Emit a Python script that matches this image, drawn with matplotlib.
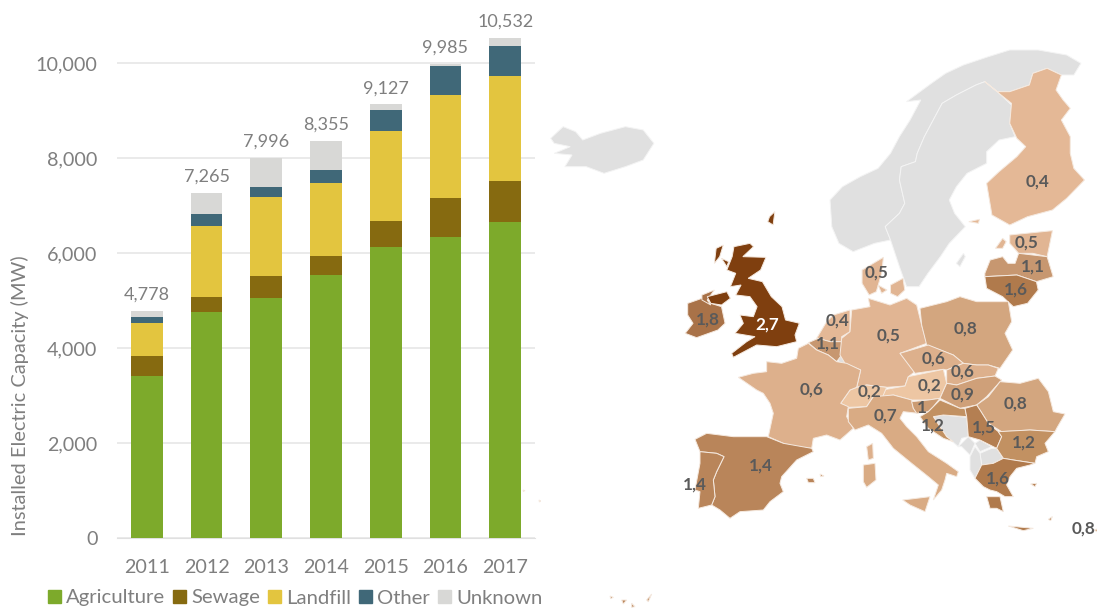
import matplotlib
matplotlib.use("Agg")
import matplotlib.pyplot as plt
from matplotlib.patches import Polygon, Patch

years = ["2011", "2012", "2013", "2014", "2015", "2016", "2017"]
agriculture = [3404, 4757, 5060, 5536, 6132, 6336, 6645]
sewage = [427, 323, 455, 400, 541, 814, 876]
landfill = [701, 1488, 1657, 1530, 1888, 2182, 2198]
other = [126, 246, 210, 274, 442, 610, 631]
unknown = [120, 451, 614, 615, 124, 43, 182]
totals = [4778, 7265, 7996, 8355, 9127, 9985, 10532]
series_names = ["Agriculture", "Sewage", "Landfill", "Other", "Unknown"]
series_colors = ["#7DAA2B", "#866A10", "#E3C53F", "#406878", "#D8D8D6"]
yticks = [0, 2000, 4000, 6000, 8000, 10000]

country_values = {
    "FI": "0,4", "EE": "0,5", "LV": "1,1", "LT": "1,6", "DK": "0,5", "IE": "1,8",
    "UK": "2,7", "NL": "0,4", "BE": "1,1", "DE": "0,5", "PL": "0,8", "CZ": "0,6",
    "SK": "0,6", "AT": "0,2", "CH": "0,2", "FR": "0,6", "HU": "0,9", "RO": "0,8",
    "IT": "0,7", "SI": "1", "HR": "1,2", "RS": "1,5", "BG": "1,2", "ES": "1,4",
    "PT": "1,4", "GR": "1,6", "CY": "0,8",
}
shade = {"0,2": "#EDC6A3", "0,4": "#E4B896", "0,5": "#E1B593", "0,6": "#DDB08C",
         "0,7": "#D9AB84", "0,8": "#D3A67F", "0,9": "#CFA079", "1": "#CB9B72",
         "1,1": "#C79770", "1,2": "#C29162", "1,4": "#B9855A", "1,5": "#B47F52",
         "1,6": "#B07A4C", "1,8": "#A97248", "2,7": "#7F3F0F"}
NODATA = "#E0E0E0"
TEXT = "#7F7F7F"

label_px = {
    "FI": (1037, 182), "EE": (1027, 243), "LV": (1033, 267), "LT": (1016, 290),
    "DK": (877, 273), "IE": (708, 320), "UK": (767, 325), "NL": (837, 321),
    "BE": (828, 344), "DE": (889, 336), "PL": (966, 329), "CZ": (934, 359),
    "SK": (963, 372), "AT": (929, 386), "CH": (869, 392), "FR": (812, 390),
    "HU": (963, 395), "RO": (1015, 404), "IT": (886, 416), "SI": (922, 408),
    "HR": (933, 426), "RS": (984, 428), "BG": (1024, 443), "ES": (761, 466),
    "PT": (695, 485), "GR": (998, 479), "CY": (1083, 529),
}


def n(pts):   # traced on the northern crop
    return [(540 + x / 2.81, 40 + y / 3) for x, y in pts]


def s(pts):   # traced on the southern crop
    return [(600 + x / 3, 300 + y / 3) for x, y in pts]


outlines = {
    "FI": [n([(1250,125),(1285,155),(1320,155),(1375,135),(1385,100),(1425,85),(1465,105),(1450,150),(1470,180),(1490,205),(1465,240),(1490,290),(1490,340),(1500,385),(1530,420),(1480,475),(1440,510),(1370,530),(1320,555),(1270,525),(1255,430),(1290,395),(1340,350),(1365,320),(1340,295),(1320,250),(1325,190),(1290,160)]),
           n([(1205,545),(1235,538),(1232,550)])],
    "EE": [n([(1320,585),(1440,572),(1425,650),(1385,640),(1345,640),(1320,610)]),
           n([(1280,625),(1300,595),(1310,605),(1300,625)])],
    "LV": [n([(1250,700),(1265,660),(1300,650),(1315,670),(1335,670),(1345,640),(1385,645),(1425,650),(1442,710),(1395,725),(1340,705),(1250,710)])],
    "LT": [n([(1250,710),(1340,705),(1395,725),(1400,750),(1370,790),(1330,800),(1300,770),(1255,745)])],
    "DK": [n([(905,690),(965,652),(960,700),(945,755),(925,765),(905,730)]),
           n([(950,735),(975,750),(960,760)]),
           n([(985,735),(1020,715),(1025,750),(1005,770),(985,760)])],
    "IE": [n([(415,790),(455,775),(480,790),(510,800),(520,850),(500,870),(440,893),(408,880),(430,850),(415,825)]),
           n([(455,765),(490,750),(470,780),(480,795),(455,780)])],
    "UK": [n([(545,620),(590,610),(600,620),(570,650),(635,652),(620,690),(585,715),(625,725),(650,770),(680,800),(690,840),(730,850)])
           + s([(598,70),(585,105),(590,125),(530,140),(470,135),(400,172),(395,160),(440,125),(465,110),(405,100),(430,70),(420,45),(460,50)])
           + n([(610,800),(590,770),(550,765),(565,735),(535,740),(550,700),(525,690),(540,650)]),
           n([(470,770),(525,755),(535,775),(510,795),(480,790)]),
           n([(495,625),(515,615),(505,650),(490,670)]),
           n([(510,655),(530,665),(525,680)]),
           n([(645,530),(660,515),(655,555),(640,545)])],
    "NL": [s([(650,115),(680,65),(700,45),(750,30),(750,95),(725,110),(725,125),(690,125)])],
    "BE": [s([(625,128),(655,115),(690,125),(725,125),(725,165),(710,185),(685,165),(650,150)])],
    "DE": [s([(755,30),(810,20),(805,-5),(870,15),(920,-5),(950,15),(965,75),(980,130),(900,160),(945,215),(925,230),(915,258),(860,262),(800,255),(770,262),(782,210),(735,190),(720,165),(725,115),(750,95)])],
    "PL": [s([(960,25),(1040,5),(1080,-10),(1130,5),(1225,5),(1235,65),(1215,100),(1238,150),(1200,205),(1165,195),(1130,195),(1090,190),(1060,165),(980,135),(965,75)])],
    "CZ": [s([(900,160),(985,135),(1060,165),(1090,190),(1040,210),(1030,208),(945,220)])],
    "SK": [s([(1040,210),(1090,190),(1130,195),(1165,195),(1195,205),(1185,228),(1130,235),(1070,255),(1040,250)])],
    "AT": [s([(848,270),(915,258),(925,230),(1030,208),(1040,250),(1020,295),(985,300),(935,300),(880,285),(850,290)])],
    "CH": [s([(722,310),(750,270),(770,262),(800,255),(860,262),(848,290),(820,290),(800,320),(745,322)])],
    "FR": [s([(595,145),(625,130),(650,150),(685,165),(710,185),(740,190),(782,210),(770,262),(750,270),(722,310),(745,320),(740,350),(760,385),(720,420),(680,405),(640,415),(635,445),(590,440),(550,430),(505,410),(520,340),(510,310),(490,280),(470,270),(415,232),(460,220),(500,215),(500,185),(545,190),(590,175)]),
           s([(800,440),(818,430),(820,475),(805,480)])],
    "HU": [s([(1040,250),(1070,255),(1130,235),(1185,228),(1205,240),(1160,290),(1130,315),(1080,325),(1030,300),(1020,295)])],
    "RO": [s([(1130,315),(1165,290),(1200,245),(1260,250),(1315,235),(1345,275),(1360,335),(1395,342),(1370,385),(1365,395),(1290,390),(1205,395),(1165,370)])],
    "IT": [s([(745,325),(800,320),(820,290),(880,285),(935,300),(940,325),(955,340),(910,335),(900,355),(920,380),(950,410),(985,455),(1040,490),(1075,515),(1070,530),(1040,520),(1035,540),(1025,570),(1000,600),(1015,555),(985,530),(935,490),(880,445),(845,400),(805,375),(765,390),(745,365)]),
           s([(908,600),(990,590),(975,635),(930,615)]),
           s([(790,495),(825,490),(828,540),(800,562),(790,545)])],
    "SI": [s([(935,305),(985,300),(1020,295),(1000,320),(985,335),(950,340),(940,325)])],
    "HR": [s([(985,335),(1000,320),(1020,300),(1080,325),(1095,325),(1100,350),(1030,345),(1000,350),(1040,410),(1060,425),(1030,415),(985,385),(960,350)])],
    "RS": [s([(1095,325),(1130,315),(1140,330),(1165,370),(1195,395),(1205,410),(1190,445),(1140,420),(1105,410),(1100,350)])],
    "BG": [s([(1195,395),(1290,390),(1365,395),(1335,430),(1345,455),(1310,470),(1305,490),(1240,480),(1210,475),(1190,445),(1205,410)])],
    "ES": [s([(285,418),(320,400),(400,410),(500,410),(550,430),(635,445),(640,455),(590,480),(545,530),(540,550),(550,575),(510,605),(490,630),(420,635),(390,655),(360,630),(335,615),(345,590),(340,540),(350,515),(372,470),(350,460),(300,455)]),
           s([(620,535),(640,535),(645,548),(625,548)]),
           s([(660,522),(672,528),(662,530)]),
           s([(155,882),(145,905),(140,900)]), s([(95,910),(105,920),(95,922)]),
           s([(65,900),(80,900),(70,912)]), s([(30,888),(40,892),(32,896)])],
    "PT": [s([(300,455),(350,460),(372,470),(350,515),(340,540),(345,590),(335,615),(295,625),(300,575),(285,570),(300,490)]),
           s([(-231,570),(-225,572),(-230,574)]), s([(-183,600),(-178,603),(-182,606)])],
    "GR": [s([(1125,535),(1145,495),(1180,490),(1210,475),(1240,480),(1305,490),(1290,495),(1250,505),(1230,530),(1220,555),(1240,590),(1215,590),(1190,575),(1170,570),(1150,560)]),
           s([(1160,590),(1200,590),(1210,635),(1190,625),(1170,625)]),
           s([(1225,678),(1300,685),(1270,692)]),
           s([(1345,658),(1357,650),(1352,662)]),
           s([(1292,552),(1310,550),(1305,560)])],
    "CY": [s([(1480,690),(1497,686),(1497,697)])],
}
nodata_outlines = [
    n([(30,295),(65,260),(100,275),(120,300),(170,280),(240,260),(290,270),(320,310),(290,360),(240,380),(180,400),(130,380),(70,380),(90,345),(40,340),(85,320),(40,310)]),
    n([(880,635),(840,610),(820,560),(815,480),(850,440),(900,410),(950,385),(985,340),(1010,290),(1040,240),(1070,180),(1030,185),(1100,130),(1140,100),(1190,75),(1260,50),(1320,30),(1400,30),(1480,45),(1520,70),(1500,105),(1465,105),(1425,85),(1385,100),(1375,135),(1320,155),(1285,155),(1250,125),(1225,135),(1170,165),(1130,190),(1110,230),(1080,290),(1060,340),(1055,365),(1015,380),(1010,420),(1025,490),(1010,520),(970,560),(985,600),(940,610)]),
    n([(1225,135),(1250,125),(1285,155),(1325,195),(1320,250),(1335,290),(1290,300),(1255,335),(1255,370),(1200,400),(1170,440),(1150,480),(1165,520),(1195,560),(1150,610),(1125,650),(1090,700),(1065,740),(1030,740),(1010,680),(985,600),(970,560),(1010,520),(1025,490),(1010,420),(1015,380),(1055,365),(1060,340),(1080,290),(1110,230),(1130,190),(1170,165)]),
    n([(1170,670),(1190,640),(1195,650),(1180,680)]),
    s([(712,175),(728,165),(735,188),(720,192)]),
    s([(1000,350),(1030,345),(1100,352),(1105,410),(1085,415),(1075,440),(1040,410)]),
    s([(1075,440),(1105,410),(1125,430),(1110,465),(1085,440)]),
    s([(1125,430),(1140,420),(1175,440),(1140,455)]),
    s([(1140,460),(1175,445),(1190,445),(1210,475),(1180,490),(1145,495)]),
    s([(1110,470),(1125,440),(1140,460),(1145,495),(1125,535),(1110,510)]),
]

W, H = 1097, 608
FONT = "Lato"
plt.rcParams["font.family"] = FONT
fig = plt.figure(figsize=(W / 100, H / 100), dpi=100)

# ---- stacked bars -------------------------------------------------------
left, right, bottom, top = 117, 535, 538, 15.5
ax = fig.add_axes([left / W, 1 - bottom / H, (right - left) / W, (bottom - top) / H])
xs = list(range(len(years)))
base = [0] * len(years)
for name, vals, col in zip(series_names, [agriculture, sewage, landfill, other, unknown], series_colors):
    ax.bar(xs, vals, bottom=base, width=0.53, color=col, edgecolor="none", label=name, zorder=3)
    base = [b + v for b, v in zip(base, vals)]
for x, t in zip(xs, totals):
    ax.annotate(f"{t:,}", (x, t), xytext=(0, 6), textcoords="offset points",
                ha="center", va="bottom", fontsize=13, color=TEXT)
ax.set_xlim(-0.5, 6.5)
ax.set_ylim(0, 11000)
ax.set_yticks(yticks)
ax.set_yticklabels([f"{v:,}" for v in yticks])
ax.set_xticks(xs)
ax.set_xticklabels(years)
ax.tick_params(axis="both", length=0, labelsize=14.2, labelcolor=TEXT)
ax.tick_params(axis="y", pad=14)
ax.tick_params(axis="x", pad=15)
ax.grid(axis="y", color="#E6E6E6", linewidth=1.2, zorder=0)
ax.set_axisbelow(True)
for side in ["top", "right", "left"]:
    ax.spines[side].set_visible(False)
ax.spines["bottom"].set_color("#E0E0E0")
fig.text(20 / W, 1 - 396 / H, "Installed Electric Capacity (MW)", rotation=90,
         ha="center", va="center", fontsize=14.4, color=TEXT)
handles = [Patch(color=c, label=l) for c, l in zip(series_colors, series_names)]
fig.legend(handles=handles, loc="center left", bbox_to_anchor=(48 / W, 1 - 598 / H), ncol=5,
           frameon=False, fontsize=14.6, labelcolor=TEXT, handlelength=0.62, handleheight=0.62,
           handletextpad=0.25, columnspacing=0.42, borderpad=0, borderaxespad=0)

# ---- map ----------------------------------------------------------------
mp = fig.add_axes([0, 0, 1, 1], zorder=-1)
mp.set_xlim(0, W)
mp.set_ylim(H, 0)
mp.axis("off")
ax.patch.set_alpha(0)
for poly in nodata_outlines:
    mp.add_patch(Polygon(poly, closed=True, facecolor=NODATA, edgecolor="#F4F4F4", linewidth=0.7))
for code, polys in outlines.items():
    for poly in polys:
        mp.add_patch(Polygon(poly, closed=True, facecolor=shade[country_values[code]],
                             edgecolor="#F5E9DF", linewidth=0.7))
for code, (x, y) in label_px.items():
    mp.text(x, y, country_values[code], ha="center", va="center", fontsize=12.3, fontweight="bold",
            color="white" if code == "UK" else "#5A5A5A")

fig.savefig("out.png", dpi=100)
